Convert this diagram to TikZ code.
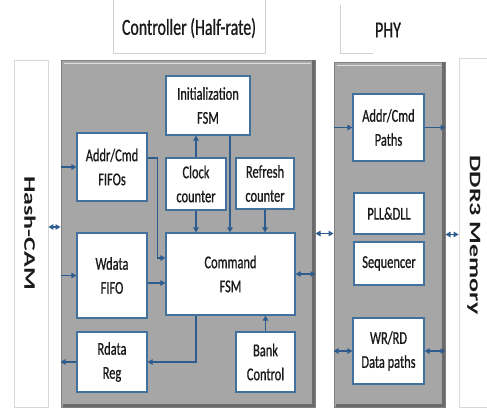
\documentclass[tikz,border=0pt]{standalone}
\usepackage{fontspec}
\setmainfont{Carlito}[FakeStretch=0.69, FakeBold=0.8]
\newfontfamily\sidefont{Carlito}
\usepackage{graphicx}
\usetikzlibrary{arrows.meta}
\definecolor{boxblue}{HTML}{41719C}
\definecolor{arrowblue}{HTML}{2E5C8F}
\definecolor{panelgray}{HTML}{A6A6A6}
\definecolor{paneledge}{HTML}{808080}
\definecolor{panelshade}{HTML}{6B6B6B}
\definecolor{textgray}{HTML}{1A1A1A}
\begin{document}
\begin{tikzpicture}
        [
            x = 1pt, y = -1pt,
            every node/.style = {text = textgray},
            panel/.style = {fill = panelgray, draw = paneledge, line width = 1pt, inner sep = 0pt},
            block/.style = {draw = boxblue, fill = white, line width = 1.2pt, align = center, inner sep = 0pt, font = \fontsize{18}{24}\selectfont},
            side/.style = {draw = gray!30, fill = white, line width = 0.8pt, inner sep = 0pt},
            sidetext/.style = {rotate = -90, font = \sidefont\bfseries\fontsize{26}{30}\selectfont},
            title/.style = {font = \fontsize{23}{26}\selectfont},
            frame/.style = {draw = gray!35, line width = 0.8pt},
            link/.style = {draw = arrowblue, line width = 1.2pt, -{Triangle[length=5pt, width=5.5pt]}},
            both/.style = {link, {Triangle[length=5pt, width=5.5pt]}-{Triangle[length=5pt, width=5.5pt]}},
        ]
        \useasboundingbox (0,0) rectangle (487,410);

        \node[side, minimum width=34pt, minimum height=347pt] (hash) at (31,233.5) {};
        \node[sidetext] (hashtext) at (30,233) {\scalebox{1}[0.62]{Hash-CAM}};
        \node[side, minimum width=36pt, minimum height=349pt] (ddr) at (477,232.5) {};
        \node[sidetext] (ddrtext) at (474,235) {\scalebox{1}[0.62]{DDR3 Memory}};

        \node[title] (ctitle) at (189,28) {Controller (Half-rate)};
        \draw[frame] (113,0) |- (265,53) -- (265,0);
        \node[title] (ptitle) at (388,30) {PHY};
        \draw[frame] (340,5) |- (373,53);

        \node[panel, minimum width=254pt, minimum height=347pt] (ctrl) at (188,233.5) {};
        \node[panel, minimum width=111pt, minimum height=345pt] (phy) at (389.5,234.5) {};
        \foreach \p in {ctrl, phy} {
            \draw[white!75!gray, line width=1.5pt] ([shift={(3pt,-4pt)}]\p.north west) -- ([shift={(-5pt,-4pt)}]\p.north east);
            \draw[panelshade, line width=3pt] ([xshift=-2pt]\p.north east) -- ([shift={(-2pt,2pt)}]\p.south east) -- ([shift={(2pt,2pt)}]\p.south west);
        }

        \node[block, minimum width=84pt, minimum height=59pt] (init) at (208,105.5) {Initialization\\FSM};
        \node[block, minimum width=70pt, minimum height=68pt] (acfifo) at (112,167) {Addr/Cmd\\FIFOs};
        \node[block, minimum width=60pt, minimum height=52pt] (clk) at (196,184) {Clock\\counter};
        \node[block, minimum width=58pt, minimum height=51pt] (refresh) at (265,183.5) {Refresh\\counter};
        \node[block, minimum width=70pt, minimum height=85pt] (wdata) at (112,275.5) {Wdata\\FIFO};
        \node[block, minimum width=129pt, minimum height=82pt] (cmd) at (230.5,274) {Command\\FSM};
        \node[block, minimum width=70pt, minimum height=60pt] (rdata) at (112,362) {Rdata\\Reg};
        \node[block, minimum width=59pt, minimum height=60pt] (bank) at (265.5,362) {Bank\\Control};

        \node[block, minimum width=71pt, minimum height=67pt] (acpath) at (388.5,127.5) {Addr/Cmd\\Paths};
        \node[block, minimum width=70pt, minimum height=41pt] (pll) at (389,213.5) {PLL\&DLL};
        \node[block, minimum width=70pt, minimum height=43pt] (seq) at (389,263.5) {Sequencer};
        \node[block, minimum width=71pt, minimum height=66pt] (wrrd) at (388.5,351) {WR/RD\\Data paths};

        \coordinate (hrow) at (0,227);
        \coordinate (acrow) at (0,158);
        \coordinate (acin) at (0,258);
        \coordinate (wdrow) at (0,283);
        \coordinate (initcol) at (230,0);

        \draw[both] (hash.east |- hrow) -- (ctrl.west |- hrow);
        \draw[link] (ctrl.west |- acfifo.west) -- (acfifo.west);
        \draw[link] (ctrl.west |- wdata.west) -- (wdata.west);
        \draw[link] (rdata.west) -- (ctrl.west |- rdata.west);
        \draw[link] (acfifo.east |- acrow) -- ++(10,0) |- (cmd.west |- acin);
        \draw[link] (wdata.east |- wdrow) -- (cmd.west |- wdrow);
        \draw[link] (clk.north) -- (init.south -| clk.north);
        \draw[link] (clk.south) -- (cmd.north -| clk.south);
        \draw[link] (init.south -| initcol) -- (cmd.north -| initcol);
        \draw[link] (refresh.south) -- (cmd.north -| refresh.south);
        \draw[both] (cmd.east) -- (ctrl.east |- cmd.east);
        \draw[both] (ctrl.east) -- (phy.west |- ctrl.east);
        \draw[link] (cmd.south -| clk.south) |- (rdata.east);
        \draw[link] (bank.north) -- (cmd.south -| bank.north);
        \draw[link] (phy.west |- acpath.west) -- (acpath.west);
        \draw[link] (acpath.east) -- (phy.east |- acpath.east);
        \draw[both] (phy.east) -- (ddr.west |- phy.east);
        \draw[both] (phy.west |- wrrd.west) -- (wrrd.west);
        \draw[both] (wrrd.east) -- (phy.east |- wrrd.east);
\end{tikzpicture}
\end{document}
